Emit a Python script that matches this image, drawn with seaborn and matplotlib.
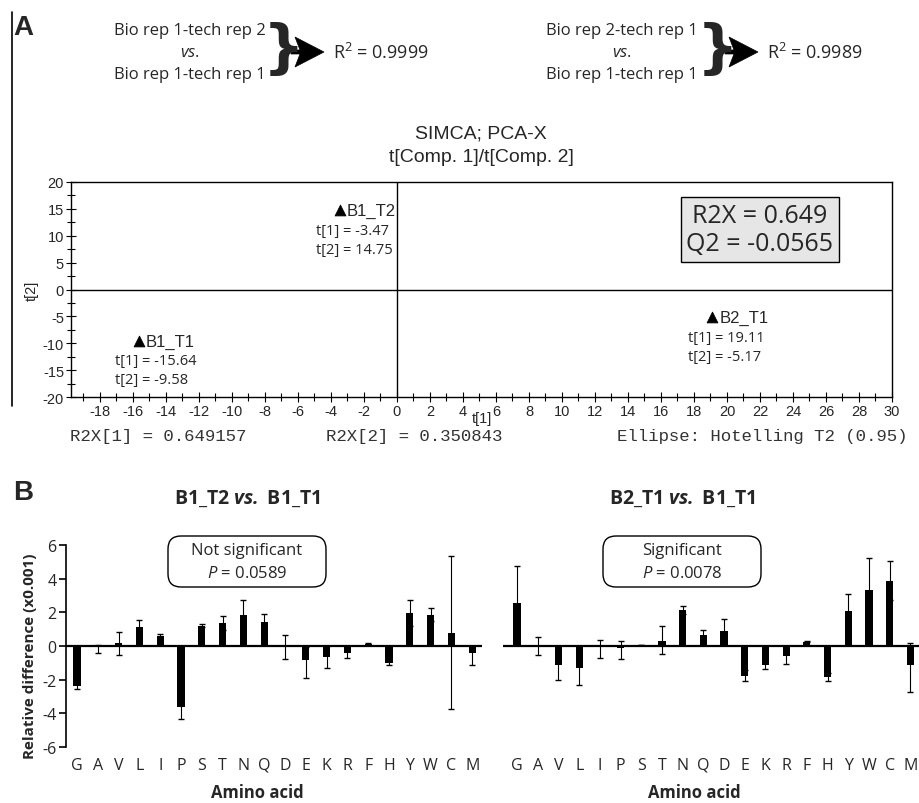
import matplotlib
matplotlib.use("Agg")
import matplotlib.pyplot as plt
from matplotlib import font_manager
from matplotlib.patches import FancyBboxPatch, Polygon
from matplotlib.lines import Line2D
from matplotlib.ticker import MultipleLocator
import numpy as np
import pandas as pd
import seaborn as sns

# ---------------------------------------------------------------- data
# PCA scores of the three acquisitions
score_samples = ["B1_T1", "B1_T2", "B2_T1"]
score_t1 = [-15.64, -3.47, 19.11]
score_t2 = [-9.58, 14.75, -5.17]
model_r2x = 0.649
model_q2 = -0.0565
r2x_components = [0.649157, 0.350843]
ellipse_note = "Ellipse: Hotelling T2 (0.95)"

# replicate correlations
replicate_first = ["Bio rep 1-tech rep 2", "Bio rep 2-tech rep 1"]
replicate_second = ["Bio rep 1-tech rep 1", "Bio rep 1-tech rep 1"]
replicate_r2 = [0.9999, 0.9989]

# relative amino-acid differences (x0.001)
amino_acids = ["G", "A", "V", "L", "I", "P", "S", "T", "N", "Q",
               "D", "E", "K", "R", "F", "H", "Y", "W", "C", "M"]
diff_b1t2 = [-2.35, -0.03, 0.16, 1.12, 0.62, -3.62, 1.20, 1.37, 1.85, 1.42,
             -0.03, -0.85, -0.65, -0.42, 0.12, -1.00, 1.97, 1.87, 0.77, -0.42]
err_lo_b1t2 = [0.20, 0.40, 0.67, 0.40, 0.07, 0.70, 0.10, 0.43, 0.88, 0.50,
               0.72, 1.05, 0.64, 0.27, 0.06, 0.12, 0.77, 0.38, 4.50, 0.70]
err_hi_b1t2 = [0.20, 0.08, 0.67, 0.40, 0.07, 0.70, 0.10, 0.43, 0.88, 0.50,
               0.70, 0.80, 0.64, 0.27, 0.06, 0.12, 0.77, 0.38, 4.55, 0.40]
diff_b2t1 = [2.53, 0.00, -1.13, -1.32, -0.02, -0.10, 0.05, 0.28, 2.14, 0.65,
             0.87, -1.76, -1.13, -0.57, 0.26, -1.86, 2.10, 3.33, 3.88, -1.13]
err_lo_b2t1 = [2.20, 0.53, 0.87, 1.00, 0.67, 0.70, 0.02, 0.78, 0.24, 0.32,
               0.75, 0.32, 0.24, 0.50, 0.05, 0.24, 0.99, 1.90, 1.17, 1.62]
err_hi_b2t1 = [2.20, 0.54, 0.87, 1.00, 0.40, 0.38, 0.02, 0.93, 0.24, 0.32,
               0.75, 0.32, 0.24, 0.50, 0.05, 0.24, 0.99, 1.90, 1.17, 1.31]
comparison_titles = ["B1_T2", "B2_T1"]
comparison_status = ["Not significant", "Significant"]
comparison_p = [0.0589, 0.0078]

# ---------------------------------------------------------------- style
sns.set_theme(style="white")
available = {f.name for f in font_manager.fontManager.ttflist}


def pick(*names):
    for n in names:
        if n in available:
            return n
    return "DejaVu Sans"


HUMAN = pick("Open Sans", "Lato", "Noto Sans")
ARIAL = pick("Liberation Sans", "Arial")
MONO = pick("Liberation Mono", "DejaVu Sans Mono")
plt.rcParams["font.family"] = [HUMAN, "DejaVu Sans"]
plt.rcParams["axes.unicode_minus"] = False
plt.rcParams["mathtext.fontset"] = "custom"
plt.rcParams["mathtext.rm"] = HUMAN
plt.rcParams["mathtext.it"] = HUMAN + ":italic"
plt.rcParams["mathtext.bf"] = HUMAN + ":bold"
try:
    plt.rcParams["mathtext.bfit"] = HUMAN + ":italic:bold"
    VS_BOLD = r"$\mathbfit{vs.}$"
except KeyError:
    VS_BOLD = r"$\mathbf{vs.}$"

W, H = 919, 804
fig = plt.figure(figsize=(W / 100, H / 100), dpi=100)


def rect(l, t, r, b):
    return [l / W, 1 - b / H, (r - l) / W, (b - t) / H]


def ftext(x, y, s, **kw):
    kw.setdefault("ha", "center")
    kw.setdefault("va", "center")
    return fig.text(x / W, 1 - y / H, s, **kw)


# ================================================================ panel A
ftext(23, 28, "A", fontsize=20, fontweight="bold", family=ARIAL)
fig.add_artist(Line2D([12 / W, 12 / W], [1 - 13 / H, 1 - 407 / H],
                      transform=fig.transFigure, color="black", lw=1.2))

group_cx = [190, 622]
brace_x = [283, 717]
r2_x = [333, 767]
for i in range(2):
    cx = group_cx[i]
    ftext(cx, 31, replicate_first[i], fontsize=12)
    ftext(cx, 53, r"$\mathit{vs.}$", fontsize=12)
    ftext(cx, 75, replicate_second[i], fontsize=12)
    ftext(brace_x[i], 51, "}", fontsize=42, fontweight="bold",
          family="DejaVu Sans")
    bx = brace_x[i] + 8
    pts = [(bx, 51), (bx + 9, 51), (bx + 4, 38), (bx + 33, 53),
           (bx + 4, 68), (bx + 9, 55), (bx, 55)]
    fig.add_artist(Polygon([(px / 100, (H - py) / 100) for px, py in pts],
                           closed=True, transform=fig.dpi_scale_trans,
                           fc="black", ec="black", lw=0.5))
    ftext(r2_x[i], 53, r"R$^{\mathregular{2}}$ = " + f"{replicate_r2[i]:.4f}",
          fontsize=13, ha="left")

ftext(481, 134, "SIMCA; PCA-X", fontsize=14, family=ARIAL)
ftext(481, 158, "t[Comp. 1]/t[Comp. 2]", fontsize=14, family=ARIAL)

axA = fig.add_axes(rect(71, 183, 892, 398))
scores = pd.DataFrame({"sample": score_samples, "t1": score_t1, "t2": score_t2})
sns.scatterplot(data=scores, x="t1", y="t2", marker="^", s=60, color="black",
                edgecolor="black", legend=False, ax=axA, zorder=3)
axA.axhline(0, color="black", lw=1.0)
axA.axvline(0, color="black", lw=1.0)
axA.set_xlim(-19.75, 30)
axA.set_ylim(-20, 20)
axA.set_xticks(np.arange(-18, 31, 2))
axA.xaxis.set_minor_locator(MultipleLocator(1))
axA.set_yticks(np.arange(-20, 21, 5))
axA.yaxis.set_minor_locator(MultipleLocator(2.5))
axA.tick_params(which="both", direction="inout", bottom=True, left=True,
                top=False, right=False, width=0.8, color="black")
axA.tick_params(which="major", length=7)
axA.tick_params(which="minor", length=6)
axA.tick_params(axis="x", pad=1.5, labelsize=10.5)
axA.tick_params(axis="y", pad=1.5, labelsize=10.5)
for lab in axA.get_xticklabels() + axA.get_yticklabels():
    lab.set_family(ARIAL)
for sp in axA.spines.values():
    sp.set_color("black")
    sp.set_linewidth(1.0)
axA.set_xlabel("t[1]", fontsize=10.5, family=ARIAL)
axA.xaxis.label.set_va("center")
axA.xaxis.set_label_coords(0.5, (398 - 419) / 215)
axA.set_ylabel("t[2]", fontsize=10.5, family=ARIAL)
axA.yaxis.label.set_va("center")
axA.yaxis.set_label_coords((32 - 71) / 821, 0.5)

for name, x, y in zip(score_samples, score_t1, score_t2):
    axA.annotate(name, xy=(x, y), xytext=(7, 0), textcoords="offset pixels",
                 ha="left", va="center", fontsize=12, family=ARIAL)
    axA.annotate(f"t[1] = {x:.2f}", xy=(x, y), xytext=(-24, -20),
                 textcoords="offset pixels", ha="left", va="center",
                 fontsize=10.5)
    axA.annotate(f"t[2] = {y:.2f}", xy=(x, y), xytext=(-24, -39),
                 textcoords="offset pixels", ha="left", va="center",
                 fontsize=10.5)

axA.text(22.0, 11.2, f"R2X = {model_r2x:.3f}\nQ2 = {model_q2:.4f}",
         ha="center", va="center", multialignment="center", fontsize=18,
         linespacing=1.18,
         bbox=dict(boxstyle="square,pad=0.22", fc="#e6e6e6", ec="black",
                   lw=1.0))

mono_kw = dict(fontsize=12.5, family=MONO, color="#333333", ha="left")
ftext(70, 437, f"R2X[1] = {r2x_components[0]:.6f}", **mono_kw)
ftext(326, 437, f"R2X[2] = {r2x_components[1]:.6f}", **mono_kw)
ftext(617, 437, ellipse_note, **mono_kw)

# ================================================================ panel B
ftext(23, 493, "B", fontsize=20, fontweight="bold", family=ARIAL)

axL = fig.add_axes(rect(66, 546, 482, 748))
axR = fig.add_axes(rect(503, 546, 919, 748))
panels = [
    (axL, diff_b1t2, err_lo_b1t2, err_hi_b1t2, (-0.53, 19.47), 247),
    (axR, diff_b2t1, err_lo_b2t1, err_hi_b2t1, (-0.68, 19.42), 682),
]
x_pos = np.arange(len(amino_acids))
for k, (ax, vals, lo, hi, xl, cx) in enumerate(panels):
    df = pd.DataFrame({"aa": amino_acids, "diff": vals})
    sns.barplot(data=df, x="aa", y="diff", order=amino_acids, color="black",
                saturation=1, width=0.35, errorbar=None, linewidth=0,
                ax=ax, zorder=3)
    ax.errorbar(x_pos, vals, yerr=[lo, hi], fmt="none", ecolor="black",
                elinewidth=0.8, capsize=2.3, capthick=1.0, zorder=2)
    ax.axhline(0, color="black", lw=1.6, zorder=4)
    ax.set_xlim(*xl)
    ax.set_ylim(-6, 6)
    for sp in ["top", "right", "bottom"]:
        ax.spines[sp].set_visible(False)
    ax.tick_params(axis="x", length=0, pad=7, labelsize=11.5)
    ax.set_xlabel("Amino acid", fontsize=12, fontweight="bold")
    ax.xaxis.label.set_va("center")
    ax.xaxis.set_label_coords(0.459, (748 - 793) / 202)
    ftext(cx, 499, f"{comparison_titles[k]} {VS_BOLD} B1_T1",
          fontsize=14, fontweight="bold")

axL.spines["left"].set_color("black")
axL.spines["left"].set_linewidth(1.2)
axL.set_yticks(np.arange(-6, 7, 2))
axL.tick_params(axis="y", direction="out", length=5, width=1.2, left=True,
                color="black", labelsize=11.5, pad=2)
axL.set_ylabel("Relative difference (x0.001)", fontsize=11, fontweight="bold")
axL.yaxis.label.set_va("center")
axL.yaxis.set_label_coords((30 - 66) / 416, (748 - 656) / 202)
axR.spines["left"].set_visible(False)
axR.set_yticks([])
axR.set_ylabel("")

box_left = [168, 603]
for k in range(2):
    x0 = box_left[k]
    fig.add_artist(FancyBboxPatch((x0 / 100, (H - 588) / 100), 158 / 100,
                                  51 / 100,
                                  boxstyle="round,pad=0,rounding_size=0.13",
                                  transform=fig.dpi_scale_trans, fc="white",
                                  ec="black", lw=1.0))
    ftext(x0 + 79, 551, comparison_status[k], fontsize=12)
    ftext(x0 + 79, 574, r"$\mathit{P}$ = " + f"{comparison_p[k]:.4f}",
          fontsize=12)

fig.savefig("out.png", dpi=100)
